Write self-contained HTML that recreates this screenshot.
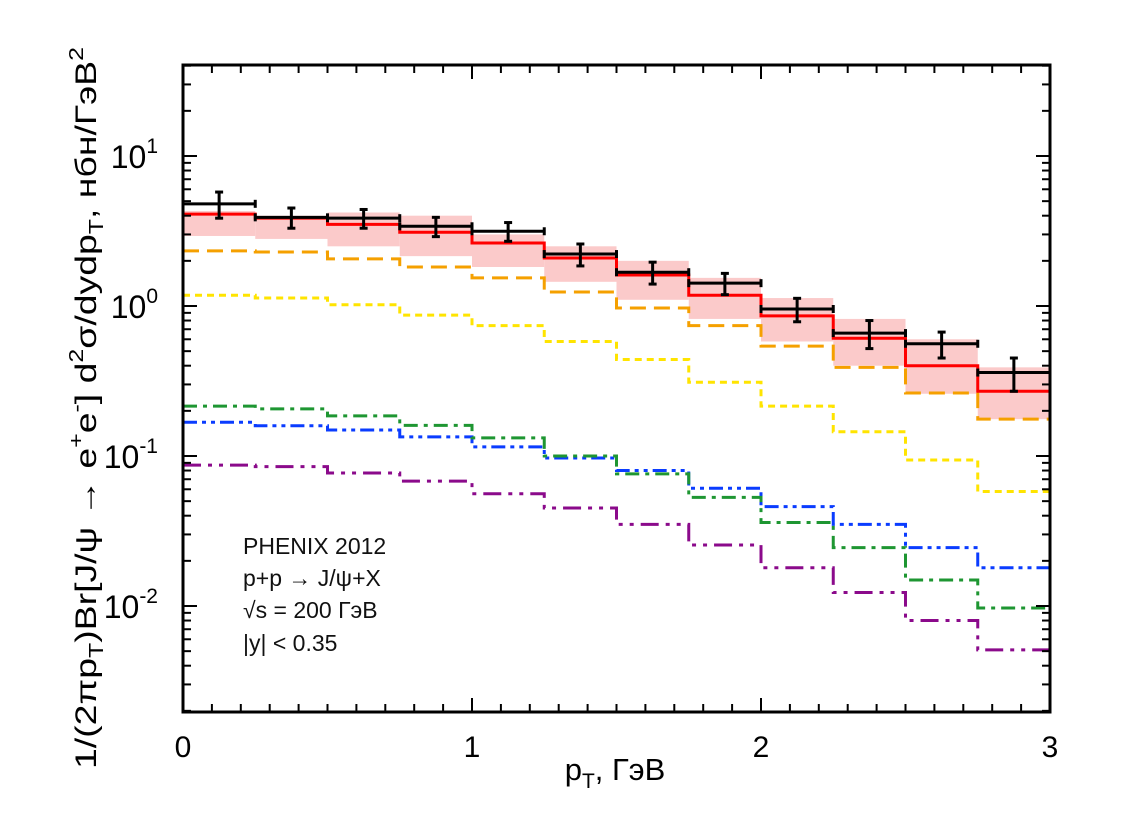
<!DOCTYPE html>
<html><head><meta charset="utf-8"><style>
html,body{margin:0;padding:0;background:#fff;width:1134px;height:822px;overflow:hidden}
svg{display:block;font-family:"Liberation Sans","DejaVu Sans",sans-serif}
</style></head><body>
<svg id="chart" width="1134" height="822" viewBox="0 0 1134 822" xmlns="http://www.w3.org/2000/svg">
<g id="bands"></g>
<g id="series"></g>
<g id="data"></g>
<g id="axes"></g>
<g font-size="23" fill="#111">
<text x="243" y="554">PHENIX 2012</text>
<text x="243" y="586">p+p → J/ψ+X</text>
<text x="243" y="618">√s = 200 ГэВ</text>
<text x="243" y="651">|y| &lt; 0.35</text>
</g>
<text x="615" y="780" text-anchor="middle" font-size="31">p<tspan font-size="21" dy="8">T</tspan><tspan dy="-8">, ГэВ</tspan></text>
<text transform="translate(96,408) rotate(-90)" text-anchor="middle" font-size="30" textLength="722" lengthAdjust="spacingAndGlyphs">1/(2πp<tspan font-size="20" dy="7">T</tspan><tspan dy="-7">)Br[J/ψ → e</tspan><tspan font-size="20" dy="-13">+</tspan><tspan dy="13">e</tspan><tspan font-size="20" dy="-13">-</tspan><tspan dy="13">] d</tspan><tspan font-size="20" dy="-13">2</tspan><tspan dy="13">σ/dydp</tspan><tspan font-size="20" dy="7">T</tspan><tspan dy="-7">, нбн/ГэВ</tspan><tspan font-size="20" dy="-13">2</tspan></text>
</svg>
<script>
const binEdges=[0,0.25,0.5,0.75,1,1.25,1.5,1.75,2,2.25,2.5,2.75,3];
const dataVals=[4.8,3.9,3.85,3.4,3.15,2.22,1.68,1.42,0.955,0.66,0.56,0.36];
const dataErr=[0.95,0.6,0.55,0.5,0.45,0.37,0.28,0.23,0.17,0.14,0.11,0.09];
const totalVals=[4.1,3.85,3.5,3.1,2.63,2.09,1.61,1.18,0.86,0.61,0.40,0.27];
const bandHi=[4.3,4.0,4.2,4.0,3.0,2.5,2.0,1.54,1.13,0.82,0.6,0.39];
const bandLo=[2.93,2.8,2.5,2.15,1.82,1.45,1.1,0.82,0.58,0.40,0.26,0.176];
const orangeVals=[2.33,2.29,2.06,1.82,1.54,1.24,0.97,0.74,0.54,0.39,0.263,0.176];
const yellowVals=[1.18,1.13,1.02,0.87,0.74,0.58,0.44,0.31,0.215,0.145,0.094,0.058];
const greenVals=[0.215,0.206,0.185,0.16,0.132,0.1,0.076,0.053,0.036,0.0245,0.0149,0.0097];
const blueVals=[0.168,0.159,0.149,0.134,0.115,0.097,0.08,0.061,0.046,0.035,0.0245,0.018];
const purpleVals=[0.087,0.085,0.077,0.068,0.056,0.045,0.035,0.0255,0.018,0.0123,0.008,0.0051];
const xTicks=[0,1,2,3];
const yDecades=[-2,-1,0,1];

const NS="http://www.w3.org/2000/svg";
const L=183,R=1050,T=65,B=712;
const X0=0,X1=3, YPX=150, Y0PX=306;
function sx(v){return L+(v-X0)/(X1-X0)*(R-L);}
function sy(v){return Y0PX-Math.log10(v)*YPX;}
function mk(tag,attrs,parent){const e=document.createElementNS(NS,tag);for(const k in attrs)e.setAttribute(k,attrs[k]);parent.appendChild(e);return e;}
const bands=document.getElementById('bands'),series=document.getElementById('series'),data=document.getElementById('data'),axes=document.getElementById('axes');

for(let i=0;i<bandHi.length;i++){
  const r=mk('rect',{x:sx(binEdges[i]),y:sy(bandHi[i]),width:sx(binEdges[i+1])-sx(binEdges[i]),height:sy(bandLo[i])-sy(bandHi[i]),fill:'#fbcaca'},bands);
  
  
}
function step(vals){let d='';for(let i=0;i<vals.length;i++){const y=sy(vals[i]);d+=(i?'L':'M')+sx(binEdges[i])+' '+y+'L'+sx(binEdges[i+1])+' '+y;}return d;}
const curves=[
 [purpleVals,'#8b0a8b','18 7 4 7 4 7','purple-curve'],
 [blueVals,'#0a3cff','14 5 4 5 4 5','blue-curve'],
 [greenVals,'#1e9632','14 6 4 6','green-curve'],
 [yellowVals,'#ffe400','7 5','yellow-curve'],
 [orangeVals,'#f5a000','16 8','orange-curve'],
 [totalVals,'#ff0000','','total-curve']];
for(const c of curves){
  const p=mk('path',{d:step(c[0]),fill:'none',stroke:c[1],'stroke-width':3,'stroke-dasharray':c[2]||'none'},series);
  
  
}
for(let i=0;i<dataVals.length;i++){
  const xc=sx((binEdges[i]+binEdges[i+1])/2),y=sy(dataVals[i]);
  const g=mk('g',{stroke:'#000','stroke-width':3},data);
  
  
  const xa=sx(binEdges[i]),xb=sx(binEdges[i+1]);
  mk('line',{x1:xa,x2:xb,y1:y,y2:y},g);
  mk('line',{x1:xa,x2:xa,y1:y-4,y2:y+4},g);
  mk('line',{x1:xb,x2:xb,y1:y-4,y2:y+4},g);
  const yh=sy(dataVals[i]+dataErr[i]),yl=sy(dataVals[i]-dataErr[i]);
  mk('line',{x1:xc,x2:xc,y1:yh,y2:yl},g);
  mk('line',{x1:xc-4,x2:xc+4,y1:yh,y2:yh},g);
  mk('line',{x1:xc-4,x2:xc+4,y1:yl,y2:yl},g);
}
const fr=mk('rect',{x:L,y:T,width:R-L,height:B-T,fill:'none',stroke:'#000','stroke-width':3},axes);


for(let k=0;k<=30;k++){
  const v=X0+k*0.1,x=sx(v),len=(k%10===0)?14:8;
  mk('line',{x1:x,x2:x,y1:B,y2:B-len,stroke:'#000','stroke-width':2},axes);
  mk('line',{x1:x,x2:x,y1:T,y2:T+len,stroke:'#000','stroke-width':2},axes);
}
for(const t of xTicks){
  const tx=mk('text',{x:sx(t),y:B+45,'text-anchor':'middle','font-size':30},axes);
  tx.textContent=String(t);
  
  
}
for(let d=-3;d<=1;d++){
  for(let m=1;m<=9;m++){
    const v=m*Math.pow(10,d),y=sy(v);
    if(y<T||y>B)continue;
    const len=(m===1)?14:8;
    mk('line',{x1:L,x2:L+len,y1:y,y2:y,stroke:'#000','stroke-width':2},axes);
    mk('line',{x1:R,x2:R-len,y1:y,y2:y,stroke:'#000','stroke-width':2},axes);
  }
}
for(const d of yDecades){
  const y=sy(Math.pow(10,d));
  const tx=mk('text',{x:158,y:y+12,'text-anchor':'end','font-size':32},axes);
  
  
  tx.appendChild(document.createTextNode('10'));
  const s=mk('tspan',{'font-size':21,dy:-15},tx);s.textContent=String(d);
}
</script>
</body></html>
